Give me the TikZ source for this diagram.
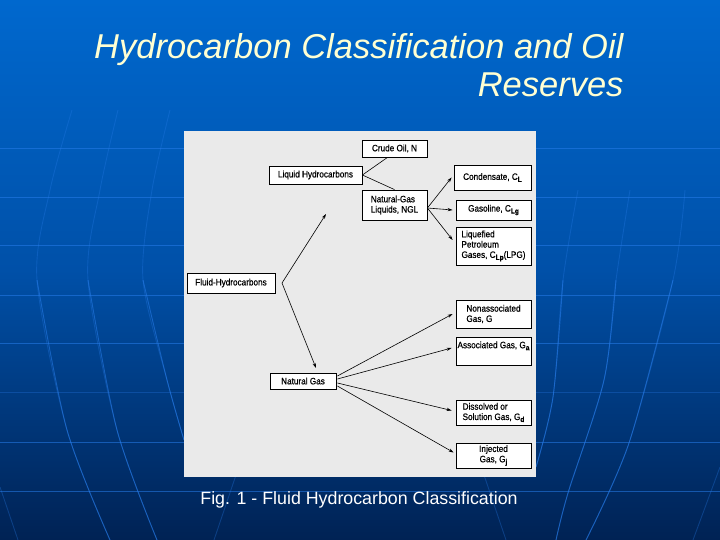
\documentclass[tikz,border=0pt]{standalone}
\usepackage{fontspec}
\setmainfont{Liberation Sans}
\newfontfamily\figfont{Liberation Sans}[FakeStretch=0.88, FakeBold=0.6]
\usetikzlibrary{arrows.meta,shadows}
\definecolor{bgtop}{RGB}{0,104,206}
\definecolor{bgmid}{RGB}{0,80,168}
\definecolor{bgbot}{RGB}{0,34,84}
\definecolor{gridc}{RGB}{40,125,235}
\definecolor{titlecol}{RGB}{255,255,210}
\definecolor{scan}{RGB}{234,234,234}
\newcommand{\subs}[1]{\raisebox{-2pt}{\fontsize{7.5}{8}\selectfont\bfseries #1}}
\tikzset{
  box/.style={draw=black, line width=0.8pt, fill=white, inner sep=0pt, align=left,
    font=\figfont\fontsize{9.3}{10.3}\selectfont,
    drop shadow={shadow xshift=1.2pt, shadow yshift=-1.2pt, fill=black, opacity=1}},
  conn/.style={draw=black, line width=0.6pt},
  arr/.style={conn, -{Stealth[length=5pt,width=3.2pt]}},
  gridline/.style={draw=gridc, opacity=0.55, line width=0.9pt},
  gridfaint/.style={draw=gridc, opacity=0.3, line width=0.9pt}
}
\begin{document}
\begin{tikzpicture}[x=1pt,y=-1pt]
\useasboundingbox (0,0) rectangle (720,540);
\shade[top color=bgtop, bottom color=bgbot, middle color=bgmid] (0pt,0pt) rectangle (720pt,-540pt);
% background grid
\foreach \hy in {148,197,245,295,343,442,491}
  \draw[gridline] (0,\hy) -- (720,\hy);
\draw[gridfaint] (0,392) -- (720,392);
\draw[gridfaint] plot[smooth] coordinates {(72,110) (50,190) (37,280) (67,430) (110,540)};
\draw[gridfaint] plot[smooth] coordinates {(118,110) (100,190) (88,280) (117,430) (157,540)};
\draw[gridfaint] plot[smooth] coordinates {(170,110) (152,190) (143,280) (167,380) (184,440)};
\draw[gridline] plot[smooth] coordinates {(37,280) (67,430) (110,540)};
\draw[gridline] plot[smooth] coordinates {(88,280) (117,430) (157,540)};
\draw[gridline] plot[smooth] coordinates {(143,280) (167,380) (184,440)};
\draw[gridfaint] (0,487) -- (18,540);
\draw[gridfaint] plot[smooth] coordinates {(578,190) (563,280) (553,397) (536,467)};
\draw[gridfaint] plot[smooth] coordinates {(630,190) (616,280) (604,380) (568,493) (556,540)};
\draw[gridfaint] plot[smooth] coordinates {(685,190) (673,280) (629,443) (586,540)};
\draw[gridline] plot[smooth] coordinates {(563,280) (553,397) (536,467)};
\draw[gridline] plot[smooth] coordinates {(616,280) (604,380) (568,493) (556,540)};
\draw[gridline] plot[smooth] coordinates {(673,280) (629,443) (586,540)};
\draw[gridfaint] (720,467) -- (693,540);
\draw[gridfaint] (236,475) -- (214,540);
\draw[gridfaint] (484,475) -- (506,540);
% title
\node[anchor=base east, font=\itshape\fontsize{34.5}{40}\selectfont, text=titlecol] (title1) at (627,59) {Hydrocarbon Classification and Oil};
\node[anchor=base east, font=\itshape\fontsize{34.5}{40}\selectfont, text=titlecol] (title2) at (627,97) {Reserves};
% scanned figure area
\fill[scan] (184,131) rectangle (536,477);
% boxes
\node[box, minimum width=65pt, minimum height=17pt] (CR) at (394.5,148.5) {Crude Oil, N};
\node[box, minimum width=93pt, minimum height=18pt] (LH) at (315.5,175) {Liquid Hydrocarbons};
\node[box, minimum width=77pt, minimum height=25pt] (CO) at (492.5,177.5) {Condensate, C\subs{L}};
\node[box, minimum width=65pt, minimum height=30pt] (NGL) at (394.5,205) {Natural-Gas\\Liquids, NGL};
\node[box, minimum width=75pt, minimum height=20pt] (GA) at (493.5,210) {Gasoline, C\subs{Lg}};
\node[box, minimum width=75pt, minimum height=38pt] (LPG) at (493.5,246) {Liquefied\\Petroleum\\Gases, C\subs{Lp}(LPG)};
\node[box, minimum width=88pt, minimum height=20pt] (FH) at (231,283) {Fluid-Hydrocarbons};
\node[box, minimum width=75pt, minimum height=28pt] (NA) at (493.5,314) {Nonassociated\\Gas, G};
\node[box, minimum width=75pt, minimum height=28pt] (AG) at (493.5,351) {Associated Gas, G\subs{a}\\[2pt]\mbox{}};
\node[box, minimum width=66pt, minimum height=16pt] (NG) at (303,381) {Natural Gas};
\node[box, minimum width=75pt, minimum height=25pt] (DG) at (493.5,412.5) {Dissolved or\\Solution Gas, G\subs{d}};
\node[box, minimum width=75pt, minimum height=25pt, align=center] (IG) at (493.5,455.5) {Injected\\Gas, G\subs{j}};
% free ends
\coordinate (fork) at (282,283);
\coordinate (lhtip) at (326,214);
\coordinate (ngtip) at (316,368);
% connectors
\draw[conn] (LH.east) -- ([xshift=-7pt]CR.south);
\draw[conn] (LH.east) -- (NGL.north);
\draw[arr] ([yshift=-3pt]NGL.east) -- ([xshift=-2pt]CO.west);
\draw[arr] ([yshift=-3pt]NGL.east) -- ([xshift=-3pt]GA.west);
\draw[arr] ([yshift=-3pt]NGL.east) -- ([xshift=-3pt,yshift=6pt]LPG.west);
\draw[arr] (fork) -- (lhtip);
\draw[arr] (fork) -- (ngtip);
\draw[arr] ([xshift=1pt,yshift=5pt]NG.east) -- ([xshift=-3pt]NA.west);
\draw[arr] ([xshift=1pt,yshift=2pt]NG.east) -- ([xshift=-4pt,yshift=3pt]AG.west);
\draw[arr] ([xshift=1pt,yshift=-2pt]NG.east) -- ([xshift=-4pt,yshift=2pt]DG.west);
\draw[arr] ([xshift=1pt,yshift=-5pt]NG.east) -- ([xshift=-2pt,yshift=3pt]IG.west);
% caption
\node[anchor=base, font=\fontsize{17.8}{21}\selectfont, text=white] (caption) at (359,504) {Fig. 1 - Fluid Hydrocarbon Classification};
\end{tikzpicture}
\end{document}
